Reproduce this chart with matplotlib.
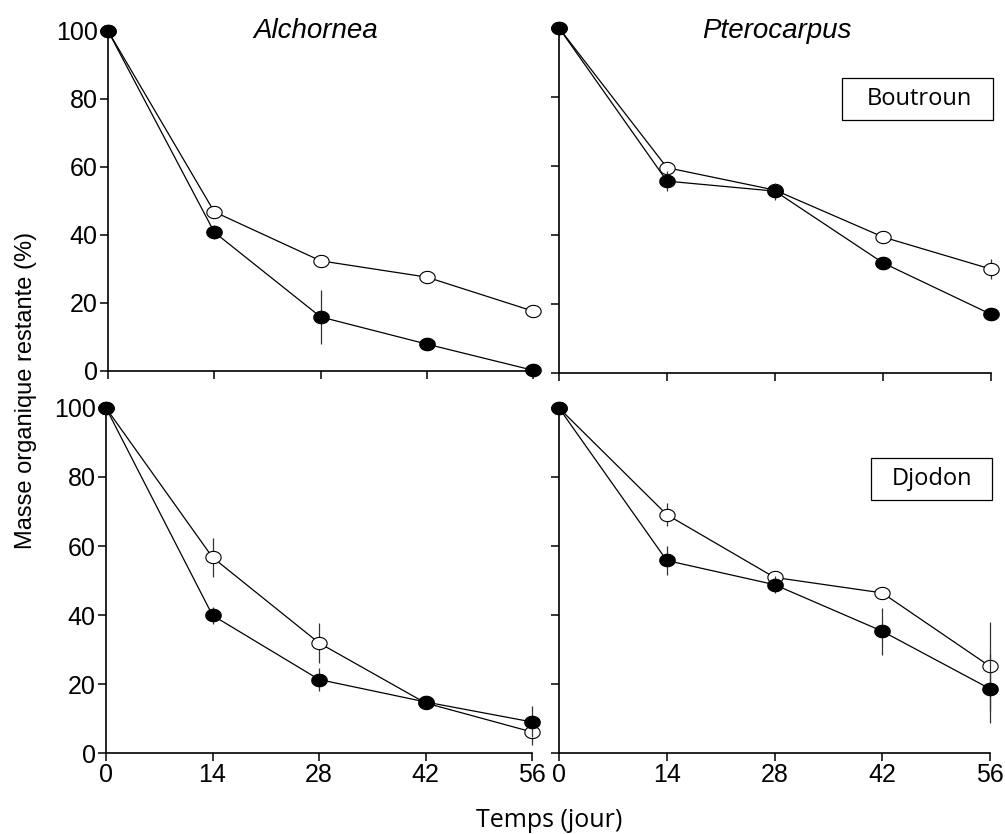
import numpy as np
import matplotlib.pyplot as plt
from matplotlib.path import Path
from matplotlib.patches import Rectangle

plt.rcParams['font.family'] = ['Liberation Sans', 'DejaVu Sans']

jours = [0, 14, 28, 42, 56]

# Alchornea - Boutroun
alc_bout_plein = [100, 40.8, 15.9, 7.9, 0.2]
alc_bout_plein_err = [0, 2, 8, 0.5, 0]
alc_bout_vide = [100, 46.8, 32.4, 27.6, 17.6]
alc_bout_vide_err = [0, 0.5, 0.5, 0.5, 0.5]

# Pterocarpus - Boutroun
pte_bout_plein = [100, 55.6, 52.7, 31.9, 17.0]
pte_bout_plein_err = [0, 3, 2.5, 0.5, 0.5]
pte_bout_vide = [100, 59.5, 53.0, 39.4, 30.1]
pte_bout_vide_err = [0, 1, 0.5, 0.5, 3]

# Alchornea - Djodon
alc_djo_plein = [100, 39.9, 21.3, 14.8, 9.0]
alc_djo_plein_err = [0, 2.5, 3.4, 0.5, 4.5]
alc_djo_vide = [100, 56.7, 31.9, 14.5, 6.1]
alc_djo_vide_err = [0, 5.6, 5.8, 0.5, 3.7]

# Pterocarpus - Djodon
pte_djo_plein = [100, 55.8, 48.8, 35.3, 18.6]
pte_djo_plein_err = [0, 4.1, 2.4, 6.8, 10]
pte_djo_vide = [100, 69.1, 50.9, 46.4, 25.1]
pte_djo_vide_err = [0, 3.4, 1, 0.5, 12.8]

# marqueur legerement ovale comme dans la figure d'origine
t = np.linspace(0, 2 * np.pi, 64)
ovale = Path(np.column_stack([1.25 * np.cos(t), np.sin(t)]), closed=True)

fig = plt.figure(figsize=(10.05, 8.34), dpi=100)

positions = [
    [0.1075, 0.5552, 0.4229, 0.4077],
    [0.5562, 0.5528, 0.4299, 0.4137],
    [0.1055, 0.0971, 0.4239, 0.4137],
    [0.5562, 0.0971, 0.4289, 0.4137],
]

panels = [
    (alc_bout_plein, alc_bout_plein_err, alc_bout_vide, alc_bout_vide_err),
    (pte_bout_plein, pte_bout_plein_err, pte_bout_vide, pte_bout_vide_err),
    (alc_djo_plein, alc_djo_plein_err, alc_djo_vide, alc_djo_vide_err),
    (pte_djo_plein, pte_djo_plein_err, pte_djo_vide, pte_djo_vide_err),
]

axes = []
for i, (pos, (yp, ep, yv, ev)) in enumerate(zip(positions, panels)):
    ax = fig.add_axes(pos)
    axes.append(ax)
    ax.errorbar(jours, yv, yerr=ev, fmt='-', marker=ovale, color='black', lw=0.9,
                elinewidth=0.9, ecolor='#333333', capsize=0,
                mfc='white', mec='black', mew=0.8, ms=11, clip_on=False, zorder=3)
    ax.errorbar(jours, yp, yerr=ep, fmt='-', marker=ovale, color='black', lw=0.9,
                elinewidth=0.9, ecolor='#333333', capsize=0,
                mfc='black', mec='black', ms=11, clip_on=False, zorder=4)
    ax.set_xlim(0, 56)
    ax.set_ylim(0, 100)
    ax.set_xticks(jours)
    ax.set_yticks([0, 20, 40, 60, 80, 100])
    for s in ['top', 'right']:
        ax.spines[s].set_visible(False)
    for s in ['left', 'bottom']:
        ax.spines[s].set_linewidth(1.2)
    ax.tick_params(direction='out', length=6, width=1.1, labelsize=18, pad=1.5)
    if i in (0, 1):
        ax.set_xticklabels([])
    if i in (1, 3):
        ax.set_yticklabels([])

axes[0].text(0.489, 0.979, 'Alchornea', transform=axes[0].transAxes, ha='center',
             va='baseline', fontsize=20, style='italic')
axes[1].text(0.505, 0.971, 'Pterocarpus', transform=axes[1].transAxes, ha='center',
             va='baseline', fontsize=20, style='italic')

# cadres des sites
for ax, nom, x0, xc in [(axes[1], 'Boutroun', 0.655, 0.833),
                         (axes[3], 'Djodon', 0.724, 0.865)]:
    ax.add_patch(Rectangle((x0, 0.733), 1.005 - x0, 0.122, transform=ax.transAxes,
                           fc='white', ec='black', lw=0.9, clip_on=False, zorder=5))
    ax.text(xc, 0.794, nom, transform=ax.transAxes, ha='center', va='center',
            fontsize=17, family=['Open Sans', 'DejaVu Sans'], zorder=6)

fig.text(0.026, 0.532, 'Masse organique restante (%)', rotation=90, ha='center',
         va='center', fontsize=17)
fig.text(0.546, 0.008, 'Temps (jour)', ha='center', va='baseline', fontsize=18,
         family=['Open Sans', 'DejaVu Sans'])

fig.savefig('out.png', dpi=100)
